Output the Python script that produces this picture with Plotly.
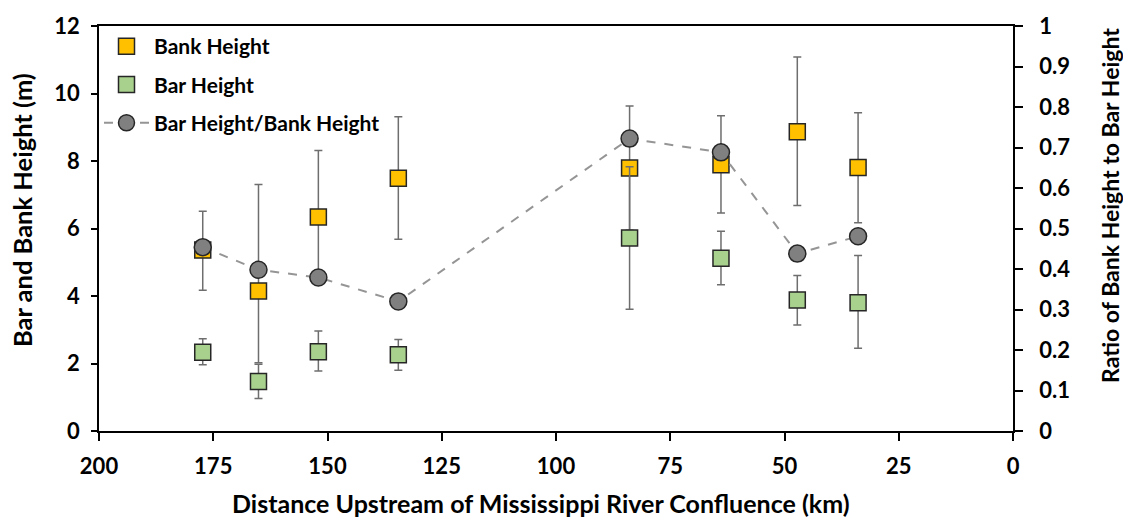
import plotly.graph_objects as go

# Data
distance_km = [177.3, 165.1, 152.0, 134.5, 83.9, 63.9, 47.2, 33.9]

bank_height = [5.36, 4.15, 6.34, 7.49, 7.79, 7.89, 8.87, 7.81]
bank_err_plus = [1.15, 3.15, 1.97, 1.82, 1.84, 1.45, 2.21, 1.62]
bank_err_minus = [1.19, 2.13, 1.97, 1.81, 1.84, 1.43, 2.19, 1.64]

bar_height = [2.33, 1.47, 2.35, 2.26, 5.72, 5.12, 3.88, 3.80]
bar_err_plus = [0.40, 0.51, 0.61, 0.45, 2.11, 0.80, 0.73, 1.40]
bar_err_minus = [0.37, 0.51, 0.57, 0.46, 2.11, 0.79, 0.74, 1.35]

ratio = [0.454, 0.398, 0.379, 0.320, 0.722, 0.688, 0.438, 0.481]

left_ticks = [0, 2, 4, 6, 8, 10, 12]
right_ticks = [0, 0.1, 0.2, 0.3, 0.4, 0.5, 0.6, 0.7, 0.8, 0.9, 1]
x_ticks = [200, 175, 150, 125, 100, 75, 50, 25, 0]

x_title = "Distance Upstream of Mississippi River Confluence (km)"
y_title = "Bar and Bank Height (m)"
y2_title = "Ratio of Bank Height to Bar Height"

FONT = "Lato"
TICK_SIZE = 22
err_color = "#6e6e6e"

fig = go.Figure()

fig.add_trace(go.Scatter(
    x=distance_km, y=bank_height, mode="markers", name="Bank Height",
    legendgroup="a",
    marker=dict(symbol="square", size=16, color="#FFC000",
                line=dict(color="#262626", width=1.5)),
    error_y=dict(type="data", symmetric=False, array=bank_err_plus,
                 arrayminus=bank_err_minus, color=err_color, thickness=1.5, width=4),
    yaxis="y",
))

fig.add_trace(go.Scatter(
    x=distance_km, y=bar_height, mode="markers", name="Bar Height",
    legendgroup="b",
    marker=dict(symbol="square", size=16, color="#A9D18E",
                line=dict(color="#262626", width=1.5)),
    error_y=dict(type="data", symmetric=False, array=bar_err_plus,
                 arrayminus=bar_err_minus, color=err_color, thickness=1.5, width=4),
    yaxis="y",
))

fig.add_trace(go.Scatter(
    x=distance_km, y=ratio, mode="lines+markers", name="Bar Height/Bank Height",
    legendgroup="c",
    line=dict(color="#959595", width=2, dash="dash"),
    marker=dict(symbol="circle", size=17, color="#808080",
                line=dict(color="#262626", width=1.5)),
    yaxis="y2",
))

title_font = dict(family=FONT, color="#000000", weight="bold")

fig.update_layout(
    width=1123, height=518,
    margin=dict(l=99, r=110, t=24, b=87),
    paper_bgcolor="white", plot_bgcolor="white",
    font=dict(family=FONT, color="#000000"),
    showlegend=True,
    legend=dict(
        x=0.0, y=1.0, xanchor="left", yanchor="top",
        bgcolor="rgba(255,255,255,0)",
        font=dict(family=FONT, size=21, color="#000000", weight="bold"),
        traceorder="grouped", tracegroupgap=8,
        itemwidth=45,
    ),
    xaxis=dict(
        range=[200, 0], tickvals=x_ticks, ticktext=[str(v) for v in x_ticks],
        showline=True, linecolor="#000000", linewidth=1.5, mirror=True,
        ticks="outside", ticklen=8, tickcolor="#000000", tickwidth=1.5,
        ticklabelstandoff=7,
        showgrid=False, zeroline=False,
        tickfont=dict(family=FONT, size=TICK_SIZE, color="#000000", weight="bold"),
    ),
    yaxis=dict(
        range=[0, 12], tickvals=left_ticks, ticktext=[str(v) for v in left_ticks],
        showline=True, linecolor="#000000", linewidth=1.5,
        ticks="outside", ticklen=6, tickcolor="#000000", tickwidth=1.5,
        ticklabelstandoff=7,
        showgrid=False, zeroline=False,
        tickfont=dict(family=FONT, size=TICK_SIZE, color="#000000", weight="bold"),
    ),
    yaxis2=dict(
        range=[0, 1], tickvals=right_ticks, ticktext=[str(v) for v in right_ticks],
        overlaying="y", side="right",
        showline=True, linecolor="#000000", linewidth=1.5,
        ticks="outside", ticklen=8, tickcolor="#000000", tickwidth=1.5,
        ticklabelstandoff=12,
        showgrid=False, zeroline=False,
        tickfont=dict(family=FONT, size=TICK_SIZE, color="#000000", weight="bold"),
    ),
    annotations=[
        dict(text=x_title, xref="paper", yref="paper", x=0.4836, y=-0.177,
             xanchor="center", yanchor="middle", showarrow=False,
             font=dict(size=25, **title_font)),
        dict(text=y_title, xref="paper", yref="paper", x=-0.0842, y=0.5455,
             xanchor="center", yanchor="middle", showarrow=False, textangle=-90,
             font=dict(size=25.5, **title_font)),
        dict(text=y2_title, xref="paper", yref="paper", x=1.106, y=0.558,
             xanchor="center", yanchor="middle", showarrow=False, textangle=-90,
             font=dict(size=23, **title_font)),
    ],
)

fig.write_html("out.html")
